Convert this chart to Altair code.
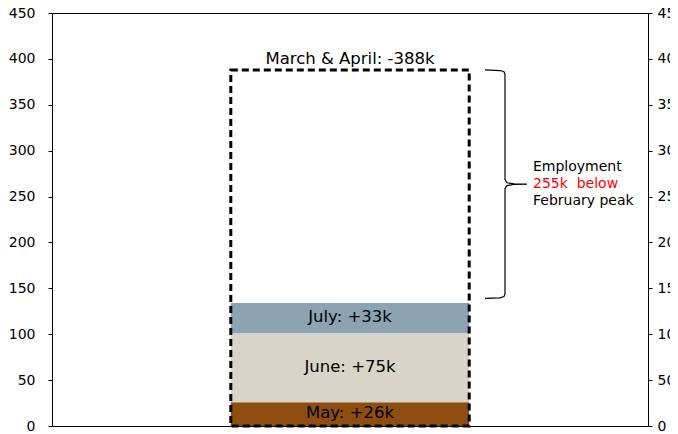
import altair as alt
import pandas as pd

# ---- data ----
period = "2020"
months = ["May", "June", "July"]
changes = [26, 75, 33]
bar_labels = ["May: +26k", "June: +75k", "July: +33k"]
bar_colors = ["#8E4E10", "#D8D4C7", "#8BA3B3"]
lost_total = 388
lost_label = "March & April: -388k"
note_lines = ["Employment", "255k\u00a0 below", "February peak"]
note_colors = ["black", "red", "black"]
brace_top = 388
brace_bottom = 139
y_ticks = [0, 50, 100, 150, 200, 250, 300, 350, 400, 450]

FONT = "DejaVu Sans"
W, H = 596, 413

# stacked segments
starts, ends = [], []
acc = 0
for v in changes:
    starts.append(acc)
    acc += v
    ends.append(acc)
bars_df = pd.DataFrame({
    "period": period,
    "month": months,
    "start": starts,
    "end": ends,
    "mid": [(s + e) / 2 for s, e in zip(starts, ends)],
    "label": bar_labels,
})
box_df = pd.DataFrame({"period": [period], "low": [0], "high": [lost_total], "label": [lost_label]})

# brace outline (x in plot pixels, y in data units around the brace span)
mid = (brace_top + brace_bottom) / 2
brace_x = [433, 448, 452, 453, 453, 455, 462, 475, 462, 455, 453, 453, 452, 448, 433]
brace_y = [brace_top, brace_top - 0.7, brace_top - 2, brace_top - 5,
           mid + 5, mid + 1.5, mid + 0.3, mid, mid - 0.3, mid - 1.5, mid - 5,
           brace_bottom + 5, brace_bottom + 2, brace_bottom + 0.7, brace_bottom]
brace_df = pd.DataFrame({"i": list(range(len(brace_x))), "bx": brace_x, "by": brace_y})
note_df = pd.DataFrame({"y": [mid]})

ysc = alt.Scale(domain=[0, 450], nice=False, zero=True)
xsc = alt.Scale(paddingInner=0, paddingOuter=0.75)
xenc = alt.X("period:N", scale=xsc, axis=None)

common_axis = dict(values=y_ticks, grid=False, labelFont=FONT, labelFontSize=14,
                   labelColor="black", tickColor="black", domainColor="black",
                   tickSize=4, title=None, labelFlush=False)
left_axis = alt.Axis(orient="left", labelPadding=13, **common_axis)
right_axis = alt.Axis(orient="right", labelPadding=5, **common_axis)

bars = alt.Chart(bars_df).mark_bar().encode(
    x=xenc,
    y=alt.Y("start:Q", scale=ysc, axis=left_axis),
    y2="end:Q",
    color=alt.Color("month:N", scale=alt.Scale(domain=months, range=bar_colors), legend=None),
)

box = alt.Chart(box_df).mark_bar(fillOpacity=0, stroke="black", strokeWidth=3,
                                 strokeDash=[7, 4]).encode(
    x=xenc,
    y=alt.Y("low:Q", scale=ysc, axis=None),
    y2="high:Q",
)

right = alt.Chart(box_df).mark_point(opacity=0).encode(
    y=alt.Y("high:Q", scale=ysc, axis=right_axis),
)

bar_text = alt.Chart(bars_df).mark_text(font=FONT, fontSize=16.5, color="black",
                                        baseline="middle", dy=-1).encode(
    x=xenc,
    y=alt.Y("mid:Q", scale=ysc, axis=None),
    text="label:N",
)

top_text = alt.Chart(box_df).mark_text(font=FONT, fontSize=16.5, color="black",
                                       baseline="alphabetic", dy=-6).encode(
    x=xenc,
    y=alt.Y("high:Q", scale=ysc, axis=None),
    text="label:N",
)

brace = alt.Chart(brace_df).mark_line(color="black", strokeWidth=1.2).encode(
    x=alt.X("bx:Q", scale=alt.Scale(domain=[0, W], nice=False, zero=True), axis=None),
    y=alt.Y("by:Q", scale=ysc, axis=None),
    order="i:Q",
)

notes = []
for k, (line, col) in enumerate(zip(note_lines, note_colors)):
    notes.append(
        alt.Chart(note_df).mark_text(font=FONT, fontSize=14, color=col, align="left",
                                     baseline="middle", dy=(k - 1) * 17, text=line).encode(
            x=alt.value(481),
            y=alt.Y("y:Q", scale=ysc, axis=None),
        )
    )

chart = alt.layer(bars, box, bar_text, top_text, brace, *notes, right).resolve_scale(
    x="independent", y="independent"
).properties(
    width=W, height=H,
    autosize=alt.AutoSizeParams(type="none"),
    padding={"left": 44, "top": 5, "right": 22, "bottom": 8},
).configure_view(stroke="black", strokeWidth=1)

chart.save("out.html", embed_options={"renderer": "svg", "actions": False})
